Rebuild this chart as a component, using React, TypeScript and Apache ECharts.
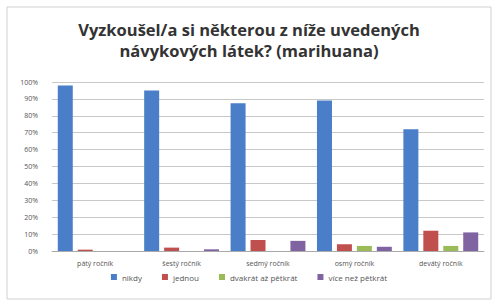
import React, { useEffect, useRef } from "react";
import * as echarts from "echarts";

const categories = ["pátý ročník", "šestý ročník", "sedmý ročník", "osmý ročník", "devátý ročník"];
const seriesNames = ["nikdy", "jednou", "dvakrát až pětkrát", "více než pětkrát"];
const nikdy = [98, 95, 87.5, 89, 72];
const jednou = [0.8, 2, 6.5, 4, 12];
const dvakrat = [0, 0, 0, 3, 3];
const viceNez = [0, 1, 6, 2.5, 11];
const colors = ["#4A7EC9", "#C0504D", "#9BBB59", "#8064A2"];
const yTicks = [0, 10, 20, 30, 40, 50, 60, 70, 80, 90, 100];

export default function App() {
  const ref = useRef<HTMLDivElement>(null);
  useEffect(() => {
    if (!ref.current) return;
    const chart = echarts.init(ref.current, null, { renderer: "svg" });
    const data = [nikdy, jednou, dvakrat, viceNez];
    chart.setOption({
      animation: false,
      backgroundColor: "#ffffff",
      title: {
        text: "Vyzkoušel/a si některou z níže uvedených\nnávykových látek? (marihuana)",
        left: "center",
        top: 14,
        textStyle: { fontFamily: "Open Sans", fontWeight: "bold", fontSize: 16.5, color: "#333", lineHeight: 21 },
      },
      graphic: [
        { type: "rect", shape: { x: 7, y: 7, width: 484, height: 292 }, style: { fill: "none", stroke: "#d0d0d0", lineWidth: 1 } },
      ],
      legend: {
        bottom: 18,
        left: "center",
        itemWidth: 6,
        itemHeight: 6,
        itemGap: 20,
        icon: "rect",
        textStyle: { fontFamily: "Open Sans", fontSize: 8, color: "#555" },
        data: seriesNames,
      },
      grid: { left: 52, right: 14, top: 82, bottom: 53 },
      xAxis: {
        type: "category",
        data: categories,
        axisTick: { show: false },
        axisLine: { lineStyle: { color: "#aaa" } },
        axisLabel: { fontFamily: "Open Sans", fontSize: 7, color: "#555", margin: 9 },
      },
      yAxis: {
        type: "value",
        min: 0,
        max: 100,
        interval: 10,
        axisLabel: { formatter: (v: number) => (yTicks.includes(v) ? v + "%" : ""), fontFamily: "Open Sans", fontSize: 7, color: "#555", margin: 14 },
        splitLine: { lineStyle: { color: "#c8c8c8" } },
        axisLine: { show: false },
        axisTick: { show: false },
      },
      series: seriesNames.map((n, i) => ({
        name: n,
        type: "bar",
        data: data[i],
        barWidth: 15,
        barGap: "33%",
        itemStyle: { color: colors[i] },
      })),
    });
    return () => chart.dispose();
  }, []);
  return <div ref={ref} style={{ position: "fixed", left: 0, top: 0, width: 498, height: 304 }} />;
}
